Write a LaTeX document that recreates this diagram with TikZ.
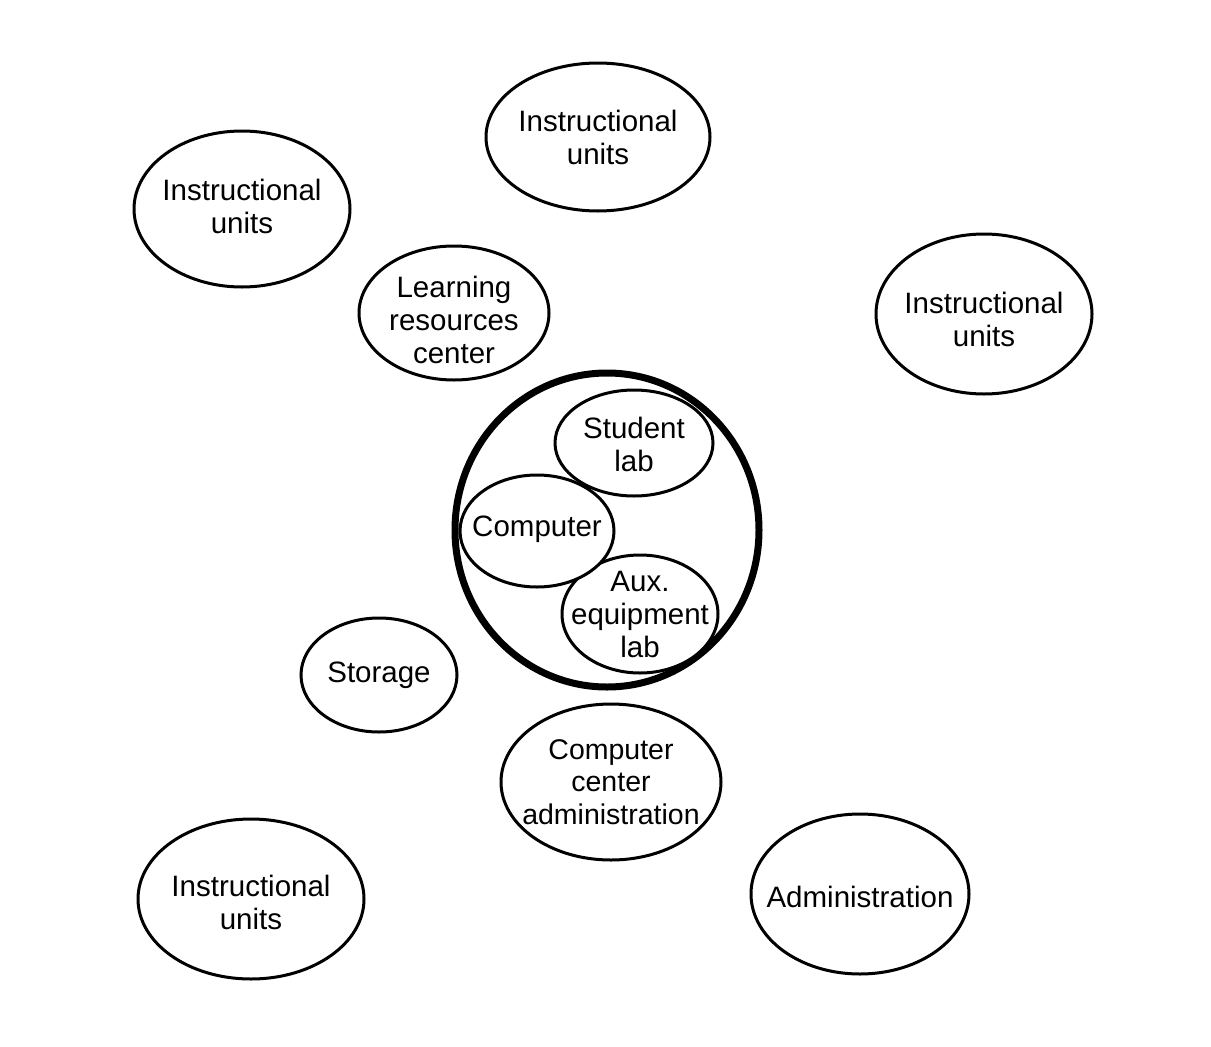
\documentclass[tikz,border=0pt]{standalone}
\usepackage{fontspec}
\setmainfont{Liberation Sans}
\usetikzlibrary{shapes.geometric}
\begin{document}
\begin{tikzpicture}[x=1pt,y=-1pt,
  area/.style 2 args={draw=black,fill=white,line width=3pt,ellipse,inner sep=0pt,
    minimum width=#1,minimum height=#2},
  txt/.style={align=center,inner sep=0pt,font=\fontsize{29.5}{33}\selectfont},
  core/.style={draw=black,line width=7pt}]
\useasboundingbox[fill=white] (0,0) rectangle (1211,1047);

% campus areas
\node[area={216}{156}] (iu1) at (242,209) {};
\node[txt] at ([yshift=3]iu1.center) {Instructional\\units};
\node[area={224}{148}] (iu2) at (598,137) {};
\node[txt] at (iu2.center) {Instructional\\units};
\node[area={190}{134}] (lrc) at (454,313) {};
\node[txt] at ([yshift=-7]lrc.center) {Learning\\resources\\center};
\node[area={216}{160}] (iu3) at (984,314) {};
\node[txt] at ([yshift=-5]iu3.center) {Instructional\\units};
\node[area={156}{114}] (sto) at (379,675) {};
\node[txt] at (sto.center) {Storage};
\node[area={220}{156}] (cca) at (611,782) {};
\node[txt,font=\fontsize{28.5}{32.5}\selectfont] at (cca.center) {Computer\\center\\administration};
\node[area={226}{160}] (iu4) at (251,899) {};
\node[txt] at ([yshift=-3]iu4.center) {Instructional\\units};
\node[area={218}{160}] (adm) at (860,894) {};
\node[txt] at ([yshift=-3]adm.center) {Administration};

% computer center and its parts
\draw[core] (607,530) ellipse [x radius=152, y radius=157];
\node[area={158}{106}] (slab) at (634,443) {};
\node[txt] at ([yshift=-1]slab.center) {Student\\lab};
\node[area={156}{118}] (aux) at (640,614) {};
\node[txt] at (aux.center) {Aux.\\equipment\\lab};
\node[area={154}{112}] (comp) at (537,531) {};
\node[txt] at ([yshift=2]comp.center) {Computer};
\end{tikzpicture}
\end{document}
